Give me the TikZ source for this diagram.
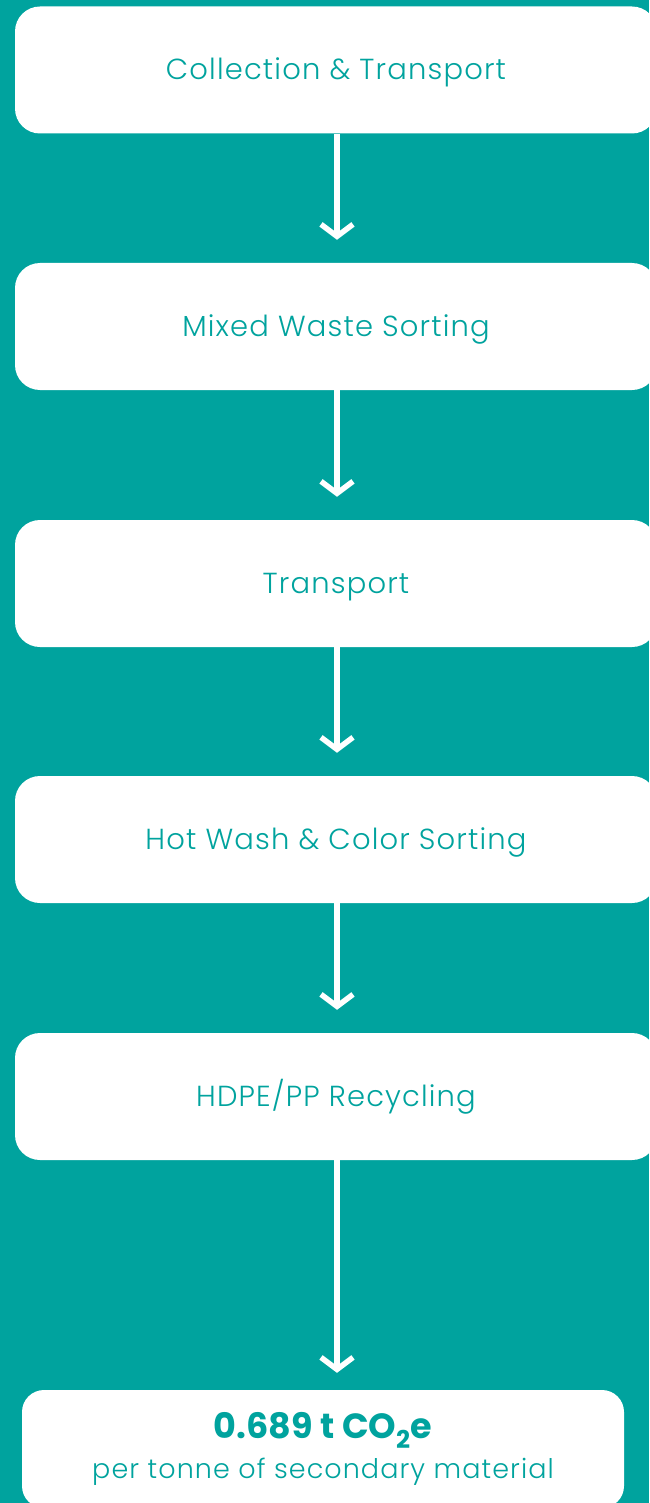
\documentclass[tikz,border=0pt]{standalone}
\usepackage{fontspec}
\setmainfont{Poppins}
\newfontfamily\lightfont[LetterSpace=4]{Poppins Light}
\usetikzlibrary{arrows.meta}
\definecolor{teal}{RGB}{0,163,158}

\begin{document}
\begin{tikzpicture}[x=1pt, y=-1pt,
    stage/.style={rectangle, fill=white, rounded corners=25pt, minimum width=642pt, minimum height=127pt, inner sep=0pt, text height=20pt, text depth=0pt, text=teal, font=\lightfont\fontsize{29}{34}\selectfont},
    flow/.style={white, line width=5.5pt, -{Straight Barb[length=12pt, width=32pt, line width=5.5pt]}, shorten >=23pt}
]

% background
\fill[teal] (0,0) rectangle (649,1503);
\clip (0,0) rectangle (649,1503);

% Process steps
\node[stage] (collect) at (336,70) {Collection \& Transport};
\node[stage] (sorting) at (336,326.5) {Mixed Waste Sorting};
\node[stage] (transport) at (336,583.5) {Transport};
\node[stage] (wash) at (336,839.5) {Hot Wash \& Color Sorting};
\node[stage] (recycle) at (336,1096.5) {HDPE/PP Recycling};

% Result
\node[rectangle, fill=white, rounded corners=22pt, minimum width=602pt, minimum height=118pt, inner sep=0pt, text=teal, align=center] (result) at (323,1449) {
    {\fontsize{35}{38}\selectfont\bfseries 0.689 t CO\textsubscript{2}e}\\[9pt]
    {\lightfont\fontsize{27}{30}\selectfont per tonne of secondary material}
};

% Arrows
\draw[flow] (collect.south -| 337,0) -- (sorting.north -| 337,0);
\draw[flow] (sorting.south -| 337,0) -- (transport.north -| 337,0);
\draw[flow] (transport.south -| 337,0) -- (wash.north -| 337,0);
\draw[flow] (wash.south -| 337,0) -- (recycle.north -| 337,0);
\draw[flow, shorten >=17pt] (recycle.south -| 337,0) -- (result.north -| 337,0);

\end{tikzpicture}
\end{document}
